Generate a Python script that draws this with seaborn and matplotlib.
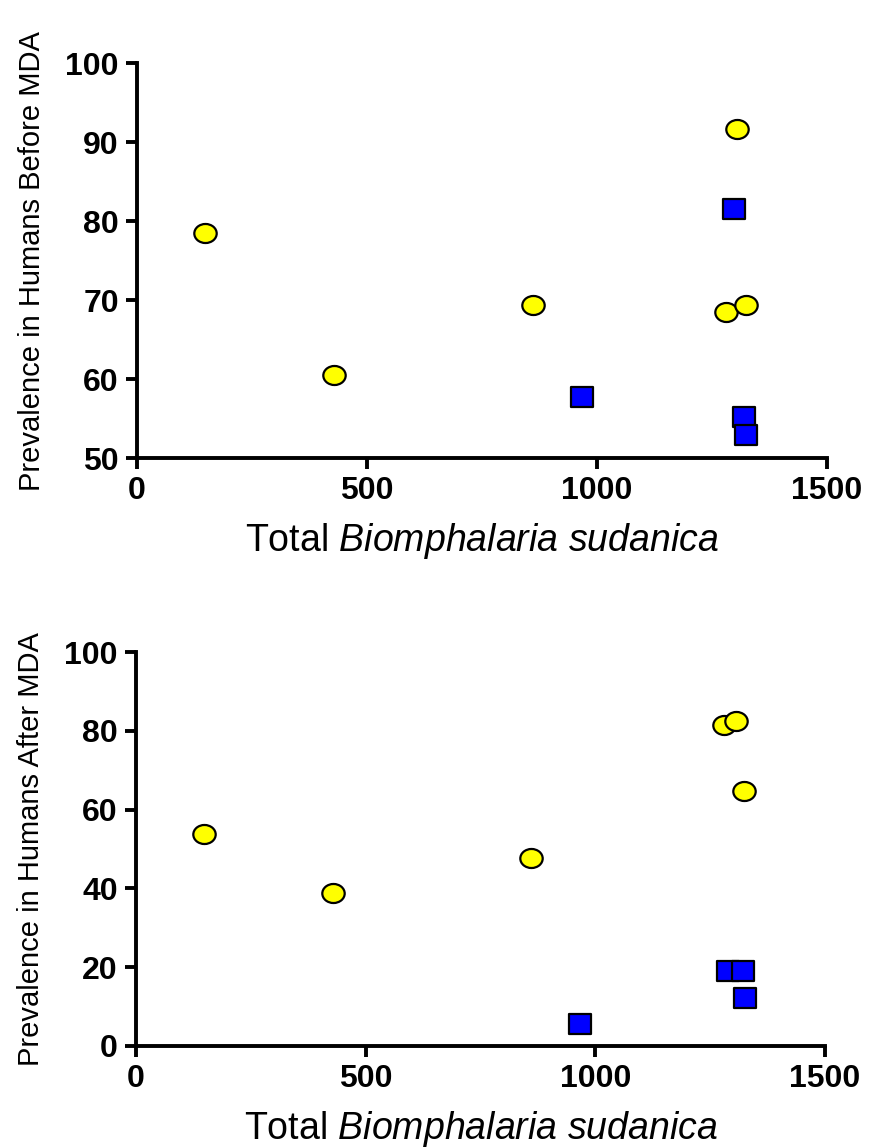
import numpy as np
import matplotlib
matplotlib.use("Agg")
import matplotlib.pyplot as plt
from matplotlib.path import Path
from matplotlib.transforms import Affine2D
import seaborn as sns

# ---- data ----
top_yellow_x = [148, 428, 861, 1282, 1305, 1324]
top_yellow_y = [78.5, 60.5, 69.4, 68.5, 91.7, 69.4]
top_blue_x = [967, 1298, 1320, 1324]
top_blue_y = [57.7, 81.5, 55.2, 52.9]

bot_yellow_x = [148, 428, 860, 1280, 1306, 1324]
bot_yellow_y = [53.8, 38.9, 47.8, 81.6, 82.6, 64.8]
bot_blue_x = [966, 1290, 1321, 1325]
bot_blue_y = [5.5, 18.9, 18.9, 12.0]

top_ylabel = "Prevalence in Humans Before MDA"
bot_ylabel = "Prevalence in Humans After MDA"
xlabel = "Total $\\mathit{Biomphalaria\\ sudanica}$"
xticks = [0, 500, 1000, 1500]
top_yticks = [50, 60, 70, 80, 90, 100]
bot_yticks = [0, 20, 40, 60, 80, 100]

sns.set_style("ticks")
plt.rcParams['font.family'] = ['Liberation Sans', 'DejaVu Sans']
plt.rcParams['mathtext.fontset'] = 'custom'
plt.rcParams['mathtext.rm'] = 'Liberation Sans'
plt.rcParams['mathtext.it'] = 'Liberation Sans:italic'

ellipse = Path.unit_circle().transformed(Affine2D().scale(1.0, 0.85))
rect = Path([(-1, -1), (1, -1), (1, 1), (-1, 1), (-1, -1)],
            [Path.MOVETO, Path.LINETO, Path.LINETO, Path.LINETO, Path.CLOSEPOLY]
            ).transformed(Affine2D().scale(1.0, 0.9))

fig = plt.figure(figsize=(8.72, 11.48), dpi=100)
ax1 = fig.add_axes([0.157, 0.601, 0.791, 0.3437])
ax2 = fig.add_axes([0.156, 0.0891, 0.790, 0.3428])

def panel(ax, yx, yy, bx, by, ylabel, yticks, ylim):
    sns.scatterplot(x=yx, y=yy, ax=ax, marker=ellipse, s=260, color="#FFFF00",
                    edgecolor="black", linewidth=1.6, zorder=3, clip_on=False)
    sns.scatterplot(x=bx, y=by, ax=ax, marker=rect, s=235, color="#0000FF",
                    edgecolor="black", linewidth=1.6, zorder=3, clip_on=False)
    ax.set_xlim(0, 1500)
    ax.set_ylim(*ylim)
    ax.set_xticks(xticks)
    ax.set_yticks(yticks)
    sns.despine(ax=ax)
    for s in ["left", "bottom"]:
        ax.spines[s].set_linewidth(2.8)
        ax.spines[s].set_color("black")
    ax.tick_params(axis="both", direction="out", length=8, width=2.8,
                   colors="black", labelsize=23, pad=5)
    for lab in ax.get_xticklabels() + ax.get_yticklabels():
        lab.set_fontweight("bold")
    ax.set_ylabel(ylabel, fontsize=21, labelpad=14, color="black")
    ax.set_xlabel(xlabel, fontsize=27, labelpad=11, color="black")
    ax.grid(False)

panel(ax1, top_yellow_x, top_yellow_y, top_blue_x, top_blue_y, top_ylabel, top_yticks, (50, 100))
panel(ax2, bot_yellow_x, bot_yellow_y, bot_blue_x, bot_blue_y, bot_ylabel, bot_yticks, (0, 100))

fig.savefig("out.png", dpi=100, facecolor="white")
